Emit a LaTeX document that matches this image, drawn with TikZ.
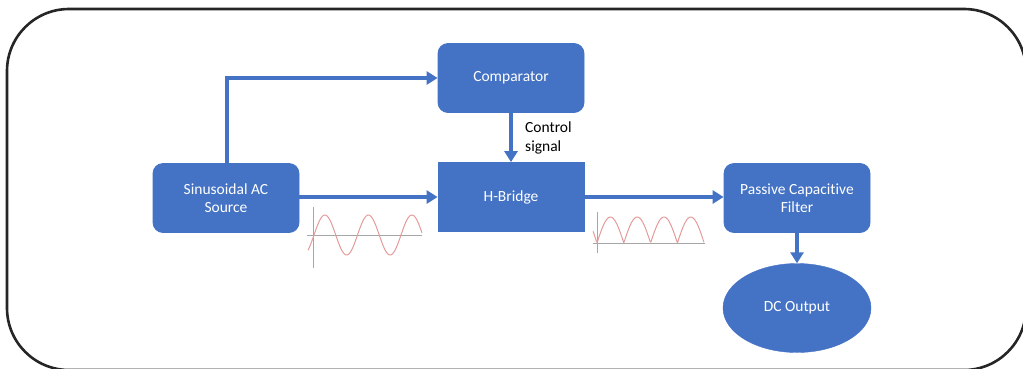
\documentclass[tikz,border=0pt]{standalone}
\usepackage{fontspec}
\setmainfont{Carlito}[Ligatures=NoCommon]
\usetikzlibrary{arrows.meta,shapes.geometric}
\definecolor{oblue}{HTML}{4472C4}
\definecolor{wave}{HTML}{E59A9A}
\definecolor{axisgray}{HTML}{A6A6A6}
\tikzset{
  txt/.style={font=\fontsize{15.5}{18.5}\selectfont},
  blk/.style={draw=oblue, fill=oblue, line width=0.8pt, text=white, txt, align=center, minimum width=146pt, minimum height=69pt, inner sep=0pt},
  rblk/.style={blk, rounded corners=10pt},
  conn/.style={draw=oblue, line width=4pt, -{Triangle[length=11pt,width=13pt]}},
  wv/.style={wave, line width=1pt},
  ax/.style={axisgray, line width=0.8pt}
}
\begin{document}
\begin{tikzpicture}[x=1pt,y=-1pt]
\useasboundingbox (0,0) rectangle (1023,368);
\draw[line width=2.6pt, color=black!85, rounded corners=62pt] (7,9) rectangle (1026,370);
\node[rblk] (cmp) at (511,78) {Comparator};
\node[blk] (hb) at (511,197) {H-Bridge};
\node[rblk] (src) at (226,198) {Sinusoidal AC\\Source};
\node[rblk] (flt) at (797,198) {Passive Capacitive\\Filter};
\node[ellipse, draw=oblue, fill=oblue, text=white, txt, minimum width=148pt, minimum height=89pt, inner sep=0pt] (dc) at (797,308) {DC Output};
\coordinate (srctop) at (227,163);
\coordinate (corner) at (227,78);
\draw[conn] (srctop) -- (corner) -- (cmp.west);
\draw[conn] (src.east |- hb.west) -- (hb.west);
\draw[conn] (cmp.south) -- (hb.north);
\draw[conn] (hb.east) -- (hb.east -| flt.west);
\draw[conn] (flt.south) -- (dc.north);
\node[anchor=west, align=left, txt, inner sep=0pt] (ctl) at (525,138) {Control\\signal};
% sine waveform
\draw[ax] (313,207) -- (313,268);
\draw[ax] (307,235) -- (422,235);
\draw[wv, domain=308:422, samples=120, smooth] plot (\x, {235 - 20*sin((\x-314)*8.27586)});
% rectified waveform
\draw[ax] (597,212) -- (597,253);
\draw[ax] (593,243) -- (705,243);
\draw[wv, domain=593:704, samples=160] plot (\x, {243 - 26*abs(sin((\x-597)*6.71642))});
\end{tikzpicture}
\end{document}
